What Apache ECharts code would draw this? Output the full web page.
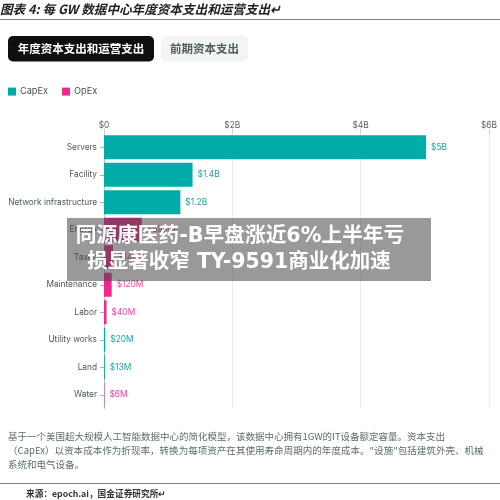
<!DOCTYPE html>
<html><head><meta charset="utf-8">
<style>html,body{margin:0;padding:0;background:#fff}#c{width:500px;height:500px;filter:blur(0.45px)}</style>
<script src="https://cdn.jsdelivr.net/npm/echarts@6/dist/echarts.min.js"></script>
</head><body><div id="c"></div>
<script>
const categories=["Servers","Facility","Network infrastructure","Energy","Taxes","Maintenance","Labor","Utility works","Land","Water"];
const capexValues=[5.02,1.38,1.19,null,null,null,null,0.02,0.013,null];
const opexValues=[null,null,null,0.59,0.14,0.12,0.04,null,null,0.006];
const valueLabels=["$5B","$1.4B","$1.2B","$590M","$140M","$120M","$40M","$20M","$13M","$6M"];
const tickLabels={0:"$0",2:"$2B",4:"$4B",6:"$6B"};
const titleText="图表 4: 每 GW 数据中心年度资本支出和运营支出↵";
const tabActive="年度资本支出和运营支出";
const tabOther="前期资本支出";
const noteLines=["基于一个美国超大规模人工智能数据中心的简化模型，该数据中心拥有1GW的IT设备额定容量。资本支出","（CapEx）以资本成本作为折现率，转换为每项资产在其使用寿命周期内的年度成本。\"设施\"包括建筑外壳、机械","系统和电气设备。"];
const sourceText="来源：epoch.ai，国金证券研究所↵";
const overlayLines=["同源康医药-B早盘涨近6%上半年亏","损显著收窄 TY-9591商业化加速"];
const TEAL="#00ABA8",PINK="#F0288F";
const sans='"Noto Sans CJK SC","Noto Sans",sans-serif';
const ui='Inter,"Noto Sans CJK SC",sans-serif';
const txt=(text,x,y,font,fill,align,z)=>({type:'text',z:z||10,style:{text,x,y,font,fill,textAlign:align||'left',textVerticalAlign:'middle'}});
const rect=(x,y,width,height,fill,r,z)=>({type:'rect',z:z||5,shape:{x,y,width,height,r:r||0},style:{fill}});
const labelFor=(color)=>({show:true,position:'right',distance:5,color,fontSize:8.4,fontFamily:ui,formatter:p=>valueLabels[p.dataIndex]});
const chart=echarts.init(document.getElementById('c'));
chart.setOption({
 animation:false,backgroundColor:'#fff',
 legend:{left:3,top:82,itemWidth:8,itemHeight:8,itemGap:14,icon:'rect',textStyle:{fontFamily:ui,fontSize:9.2,color:'#444f52',padding:[0,0,0,-1]},data:['CapEx','OpEx']},
 grid:{left:104,right:11,top:133.5,height:275},
 xAxis:{type:'value',position:'top',min:0,max:6,interval:2,
  axisLine:{show:false},axisTick:{show:true,length:5,lineStyle:{color:'#c5d0d2'}},
  axisLabel:{color:'#55656a',fontSize:8.4,fontFamily:ui,margin:4,formatter:v=>tickLabels[v]},
  splitLine:{show:true,lineStyle:{color:'#e6eded',width:1}}},
 yAxis:{type:'category',inverse:true,data:categories,
  axisLine:{show:true,lineStyle:{color:'#b8c2c4'}},axisTick:{show:true,length:4,alignWithLabel:true,lineStyle:{color:'#a8b2b4'}},
  axisLabel:{color:'#4a585c',fontSize:8.3,fontFamily:ui,margin:7}},
 series:[
  {name:'CapEx',type:'bar',data:capexValues,barWidth:24,barGap:'-100%',itemStyle:{color:TEAL},label:labelFor('#1EA5A5')},
  {name:'OpEx',type:'bar',data:opexValues,barWidth:24,itemStyle:{color:PINK},label:labelFor('#F0409A')}
 ],
 graphic:{elements:[
  txt(titleText,0,9,'italic bold 12.6px '+sans,'#222'),
  rect(0,19,500,1,'#5F8DB5'),
  rect(8,36,146,25.5,'#0E1010',5),
  txt(tabActive,81,48.5,'bold 11.5px '+sans,'#fff','center'),
  rect(161,36,87,25.5,'#F3F4F4',5),
  txt(tabOther,204.5,48.5,'bold 11.5px '+sans,'#505c5f','center'),
  txt(noteLines[0],8,436,'9.5px '+sans,'#5d6c71'),
  txt(noteLines[1],8,450,'9.55px '+sans,'#5d6c71'),
  txt(noteLines[2],8,464,'9.5px '+sans,'#5d6c71'),
  rect(0,483,500,1,'#5F8DB5'),
  txt(sourceText,26,494,'bold 8.7px '+sans,'#333'),
  rect(67,218,364,63,'rgba(70,70,70,0.55)',0,50),
  txt(overlayLines[0],240,236.5,'bold 20.7px "DejaVu Sans","Noto Sans CJK SC",sans-serif','#fff','center',60),
  txt(overlayLines[1],239,262.5,'bold 20.5px "DejaVu Sans","Noto Sans CJK SC",sans-serif','#fff','center',60)
 ]}
});
</script></body></html>
